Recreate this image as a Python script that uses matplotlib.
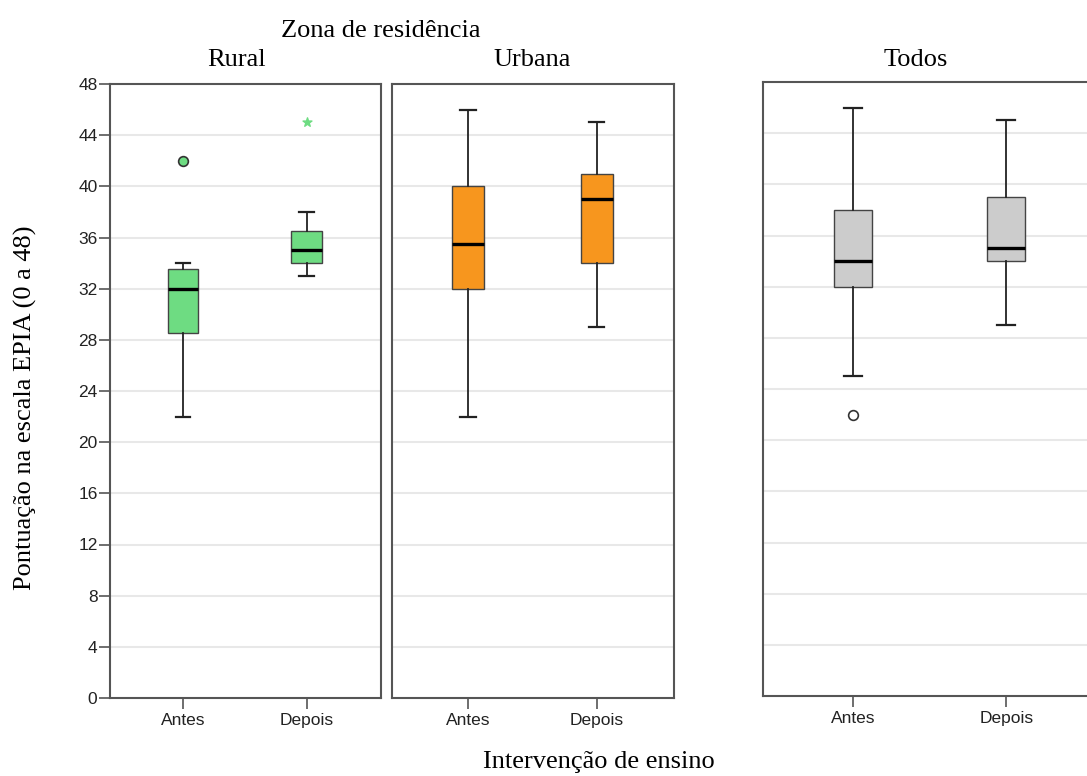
import matplotlib
matplotlib.use("Agg")
import matplotlib.pyplot as plt

# summary values (whisker low, Q1, median, Q3, whisker high)
groups = ["Antes", "Depois"]
panels = ["Rural", "Urbana", "Todos"]

rural_antes = [22, 28.5, 32, 33.5, 34]
rural_depois = [33, 34, 35, 36.5, 38]
urbana_antes = [22, 32, 35.5, 40, 46]
urbana_depois = [29, 34, 39, 41, 45]
todos_antes = [25, 32, 34, 38, 46]
todos_depois = [29, 34, 35, 39, 45]

# outliers (circle) and extremes (star)
rural_outliers = [[42], []]
rural_extremes = [[], [45]]
todos_outliers = [[22], []]

yticks = list(range(0, 49, 4))

W, H = 1087, 776
fig = plt.figure(figsize=(W / 100, H / 100), dpi=100)

def add_ax(l, r, t, b):
    return fig.add_axes([l / W, 1 - b / H, (r - l) / W, (b - t) / H])

def make_stats(vals, fl):
    lo, q1, med, q3, hi = vals
    return dict(whislo=lo, q1=q1, med=med, q3=q3, whishi=hi, fliers=fl)

serif = "Liberation Serif"
sans = "Liberation Sans"

def draw(ax, data, outl, color, flier_face):
    stats = [make_stats(v, f) for v, f in zip(data, outl)]
    ax.bxp(stats, positions=[1, 2], widths=0.25, patch_artist=True,
           boxprops=dict(facecolor=color, edgecolor="#444444", linewidth=1.0),
           medianprops=dict(color="black", linewidth=2.4),
           whiskerprops=dict(color="#222222", linewidth=1.3),
           capprops=dict(color="#222222", linewidth=1.6),
           capwidths=0.12,
           flierprops=dict(marker="o", markersize=7, markerfacecolor=flier_face,
                           markeredgecolor="#333333", markeredgewidth=1.2))
    ax.set_xlim(0.41, 2.6)
    ax.set_ylim(0, 48)
    ax.set_yticks(yticks)
    for y in yticks[1:-1]:
        ax.axhline(y, color="#e8e8e8", linewidth=1.5, zorder=0)
    ax.set_xticks([1, 2])
    ax.set_xticklabels(groups, fontsize=12.5, family=sans, color="#222222")
    ax.tick_params(axis="x", direction="out", length=8, width=1.2, color="#555555", pad=3)
    for s in ax.spines.values():
        s.set_color("#555555")
        s.set_linewidth(1.5)

ax1 = add_ax(110, 381, 84, 698)
draw(ax1, [rural_antes, rural_depois], rural_outliers, "#6edc82", "#6edc82")
for i, ext in enumerate(rural_extremes):
    ax1.scatter([i + 1] * len(ext), ext, marker="*", s=45, color="#6edc82", zorder=5)
ax1.set_yticklabels([str(v) for v in yticks], fontsize=12.5, family=sans, color="#222222")
ax1.tick_params(axis="y", direction="out", length=8, width=1.2, color="#555555", pad=1)

ax2 = add_ax(392, 674, 84, 698)
draw(ax2, [urbana_antes, urbana_depois], [[], []], "#f7961e", "#f7961e")
ax2.tick_params(axis="y", left=False, labelleft=False)

ax3 = add_ax(763, 1098, 82, 696)
draw(ax3, [todos_antes, todos_depois], todos_outliers, "#cccccc", "white")
ax3.tick_params(axis="y", left=False, labelleft=False)

# panel titles
for name, cx in zip(panels, [237, 532, 916]):
    fig.text(cx / W, 1 - 66 / H, name, family=serif, fontsize=19,
             ha="center", va="baseline")

fig.text(381 / W, 1 - 37 / H, "Zona de residência", family=serif, fontsize=19,
         ha="center", va="baseline")
fig.text(599 / W, 1 - 768 / H, "Intervenção de ensino", family=serif, fontsize=19,
         ha="center", va="baseline")
fig.text(25 / W, 1 - 408 / H, "Pontuação na escala EPIA (0 a 48)", family=serif,
         fontsize=19, ha="center", va="center", rotation=90)

fig.savefig("out.png", dpi=100)
